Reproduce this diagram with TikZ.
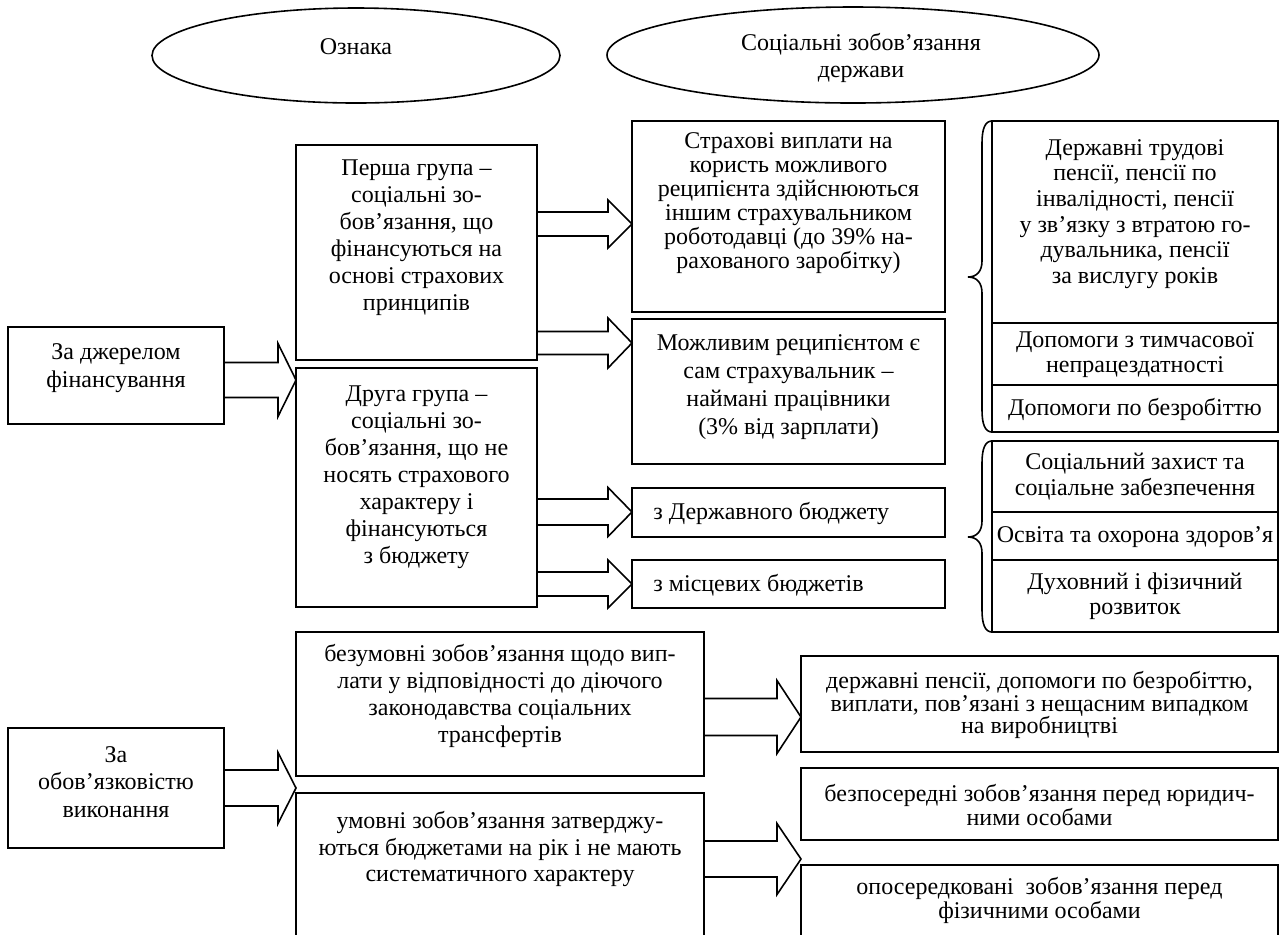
\documentclass[tikz,border=0pt]{standalone}
\usepackage{fontspec}
\setmainfont{Liberation Serif}
\usetikzlibrary{shapes.geometric,calc}
\tikzset{
  boxst/.style={draw, line width=0.8pt, inner sep=0pt, outer sep=0pt},
  ellst/.style={draw, ellipse, line width=0.8pt, inner sep=0pt},
  txt/.style={align=center, inner sep=0pt, font=\fontsize{12}{#1}\selectfont},
  txt/.default=13,
  barr/.style={draw, line width=0.8pt, line join=miter},
  brst/.style={draw, line width=0.8pt}
}
\newcommand\bx[5]{\node[boxst, anchor=north west, minimum width={(#4-#2)*0.5pt}, minimum height={(#5-#3)*0.5pt}] (#1) at (#2,#3) {};}
\newcommand\barrow[6]{%
  \draw[barr] let \p1=(#1.east), \p2=(#2.west) in
   (\x1,{-0.5pt*(#3-#4)}) -- ({\x2-0.5pt*#6},{-0.5pt*(#3-#4)}) -- ({\x2-0.5pt*#6},{-0.5pt*(#3-#5)})
   -- (\x2,{-0.5pt*#3}) -- ({\x2-0.5pt*#6},{-0.5pt*(#3+#5)}) -- ({\x2-0.5pt*#6},{-0.5pt*(#3+#4)})
   -- (\x1,{-0.5pt*(#3+#4)});}
\newcommand\brc[3]{%
  \draw[brst] (992,#1) .. controls (985,#1) and (982,#1+8) .. (982,#1+22) -- (982,#3-16)
   .. controls (982,#3-6) and (977,#3) .. (968,#3) .. controls (977,#3) and (982,#3+6) .. (982,#3+16)
   -- (982,#2-22) .. controls (982,#2-8) and (985,#2) .. (992,#2);}
\begin{document}
\begin{tikzpicture}[x=0.5pt,y=-0.5pt]
\useasboundingbox (0,0) rectangle (1280,934);
% header ellipses
\node[ellst, minimum width=204pt, minimum height=47.5pt] (e1) at (356,55.5) {};
\node[ellst, minimum width=246pt, minimum height=48pt] (e2) at (853,55) {};
\node[txt] (tOz) at (356,47) {Ознака};
\node[txt=13.5] (tSoc) at (861,58) {Соціальні зобов’язання\\держави};
% boxes
\bx{dzhe}{8}{327}{224}{424}
\bx{p1}{296}{145}{537}{360}
\bx{p2}{296}{368}{537}{607}
\bx{strakh}{632}{121}{945}{312}
\bx{mozh}{632}{319}{945}{464}
\bx{dbud}{632}{488}{945}{537}
\bx{mbud}{632}{560}{945}{608}
\bx{r1}{992}{121}{1278}{323}
\bx{r2}{992}{323}{1278}{385}
\bx{r3}{992}{385}{1278}{432}
\bx{r4}{992}{441}{1278}{512}
\bx{r5}{992}{512}{1278}{560}
\bx{r6}{992}{560}{1278}{632}
\bx{obov}{8}{728}{224}{848}
\bx{bezum}{296}{632}{704}{776}
\bx{umov}{296}{793}{704}{950}
\bx{dpens}{801}{656}{1278}{752}
\bx{bezpos}{801}{768}{1278}{840}
\bx{oposer}{801}{865}{1278}{950}
% texts
\node[txt=14] (tDzhe) at (116,368) {За джерелом\\фінансування};
\node[txt=13.5] (tP1) at (416.5,238) {Перша група –\\соціальні зо-\\бов’язання, що\\фінансуються на\\основі страхових\\принципів};
\node[txt=13.5] (tP2) at (416.5,477) {Друга група –\\соціальні зо-\\бов’язання, що не\\носять страхового\\характеру і\\фінансуються\\з бюджету};
\node[txt=12] (tStrakh) at (788.5,203) {Страхові виплати на\\користь можливого\\реципієнта здійснюються\\іншим страхувальником\\роботодавці (до 39\% на-\\рахованого заробітку)};
\node[txt=14] (tMozh) at (788.5,387) {Можливим реципієнтом є\\сам страхувальник –\\наймані працівники\\(3\% від зарплати)};
\node[txt, anchor=west] (tDbud) at (653,513) {з Державного бюджету};
\node[txt, anchor=west] (tMbud) at (653,585) {з місцевих бюджетів};
\node[txt=12.8] (tR1) at (1135,214) {Державні трудові\\пенсії, пенсії по\\інвалідності, пенсії\\у зв’язку з втратою го-\\дувальника, пенсії\\за вислугу років};
\node[txt=12.5] (tR2) at (1135,355) {Допомоги з тимчасової\\непрацездатності};
\node[txt] (tR3) at (1135,409) {Допомоги по безробіттю};
\node[txt=13] (tR4) at (1135,477) {Соціальний захист та\\соціальне забезпечення};
\node[txt] (tR5) at (1135,537) {Освіта та охорона здоров’я};
\node[txt=12.5] (tR6) at (1135,596) {Духовний і фізичний\\розвиток};
\node[txt=13.7] (tObov) at (116,782) {За\\обов’язковістю\\виконання};
\node[txt=13.5] (tBezum) at (500,696) {безумовні зобов’язання щодо вип-\\лати у відповідності до діючого\\законодавства соціальних\\трансфертів};
\node[txt=13.2] (tUmov) at (500,849) {умовні зобов’язання затверджу-\\ються бюджетами на рік і не мають\\систематичного характеру};
\node[txt=11.3] (tDpens) at (1039.5,705) {державні пенсії, допомоги по безробіттю,\\виплати, пов’язані з нещасним випадком\\на виробництві};
\node[txt=12] (tBezpos) at (1039.5,805) {безпосередні зобов’язання перед юридич-\\ними особами};
\node[txt=12] (tOposer) at (1039.5,900) {опосередковані\ \ зобов’язання перед\\фізичними особами};
% block arrows
\barrow{dzhe}{p1}{380}{17.5}{36.5}{18}
\barrow{p1}{strakh}{224}{12}{24}{24}
\barrow{p1}{mozh}{343}{11.5}{25}{24}
\barrow{p2}{dbud}{512}{13}{24.5}{24}
\barrow{p2}{mbud}{584}{12}{24}{24}
\barrow{obov}{bezum}{788}{18}{35.5}{18}
\barrow{bezum}{dpens}{717}{18.5}{36.5}{24}
\barrow{umov}{bezpos}{859}{18}{35.5}{24}
% braces
\brc{121}{432}{277}
\brc{441}{632}{537}
\end{tikzpicture}
\end{document}
